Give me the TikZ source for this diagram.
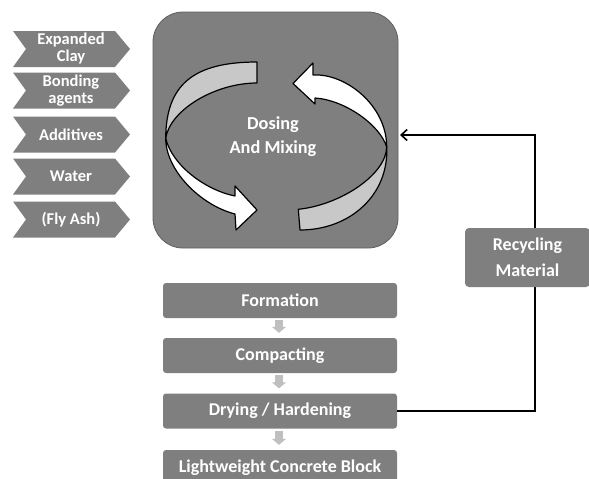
\documentclass[tikz,border=0pt]{standalone}
\usepackage{fontspec}
\setmainfont{Carlito}
\usetikzlibrary{arrows.meta,calc}
\definecolor{boxgray}{HTML}{7F7F7F}
\definecolor{edgegray}{HTML}{5E5E5E}
\definecolor{bandgray}{HTML}{C8C8C8}
\definecolor{smallarrow}{HTML}{BFBFBF}
\begin{document}
\begin{tikzpicture}[x=1pt,y=-1pt,
  chevshape/.style={fill=boxgray},
  chevtext/.style={text=white,font=\fontsize{16.5}{17}\selectfont\bfseries,align=center,inner sep=0pt},
  bigbox/.style={fill=boxgray,draw=edgegray,line width=0.8pt,rounded corners=30pt,minimum width=245pt,minimum height=236pt},
  ribbon/.style={draw=black,line width=1.2pt,line join=round},
  stepbox/.style={fill=boxgray,rounded corners=3pt,minimum width=234pt,minimum height=35pt,text=white,font=\fontsize{18}{19}\selectfont\bfseries,inner sep=0pt},
  recbox/.style={fill=boxgray,rounded corners=4pt,minimum width=125pt,minimum height=59pt,text=white,font=\fontsize{18}{26}\selectfont\bfseries,align=center,inner sep=0pt},
  downarrow/.style={draw=smallarrow,line width=8pt,-{Triangle[width=14pt,length=6pt]}},
  conn/.style={draw=black,line width=1.6pt},
]
\useasboundingbox (0,0) rectangle (589,479);
\begin{scope}
\clip (0,0) rectangle (589,479);
% chevrons
\foreach \i/\cy/\txt in {1/49/{Expanded\\Clay},2/90.5/{Bonding\\agents},3/134.5/Additives,4/176.5/Water,5/219.5/(Fly Ash)}{
  \fill[chevshape] (13,\cy-18) -- (115,\cy-18) -- (130,\cy) -- (115,\cy+18) -- (13,\cy+18) -- (26,\cy) -- cycle;
  \node[chevtext] (in\i) at (71,\cy) {\txt};
}
% mixing box
\node[bigbox] (mix) at (275.5,130) {};
% ribbons
\coordinate (pl) at (165.7,138.3);
\coordinate (pr) at (386.7,147);
% top-left grey band
\fill[bandgray,ribbon] (257,62) .. controls (193,62) and (166,85) .. (pl)
  .. controls (170,110) and (215,83) .. (257,83) -- cycle;
% bottom-right grey band
\fill[bandgray,ribbon] (pr) .. controls (389,195) and (350,230) .. (300,230)
  -- (298.3,209.3) .. controls (340,205) and (386,175) .. (pr) -- cycle;
% bottom-left white arrow
\fill[white,ribbon] (pl) .. controls (165.7,170) and (200,205) .. (235,214)
  -- (236,230) -- (257,210) -- (235,186) -- (235,196)
  .. controls (205,190) and (172,165) .. (pl) -- cycle;
% top-right white arrow
\fill[white,ribbon] (pr) .. controls (386.7,105) and (345,73) .. (313,75)
  -- (313,63) -- (293,83.5) -- (315,104) -- (315,98)
  .. controls (345,100) and (380,125) .. (pr) -- cycle;
\node[text=white,font=\fontsize{18.3}{24}\selectfont\bfseries,align=center] (dosing) at (273,137) {Dosing\\And Mixing};
% process steps
\node[stepbox] (form) at (280,300.5) {Formation};
\node[stepbox] (comp) at (280,355.5) {Compacting};
\node[stepbox] (dry) at (280,411) {Drying / Hardening};
\node[stepbox] (block) at (280,467.5) {Lightweight Concrete Block};
\draw[downarrow] ($(form.south)+(-1,2)$) -- ($(comp.north)+(-1,-5)$);
\draw[downarrow] ($(comp.south)+(-1,2)$) -- ($(dry.north)+(-1,-5)$);
\draw[downarrow] ($(dry.south)+(-1,2)$) -- ($(block.north)+(-1,-5)$);
% recycling loop
\coordinate (mixin) at (400,135);
\draw[conn,-{Straight Barb[length=6pt,width=11pt,line width=1.6pt]}] (dry.east) -- ++(138,0) |- (mixin);
\node[recbox] (rec) at (527.5,257.5) {Recycling\\Material};
\end{scope}
\end{tikzpicture}
\end{document}
